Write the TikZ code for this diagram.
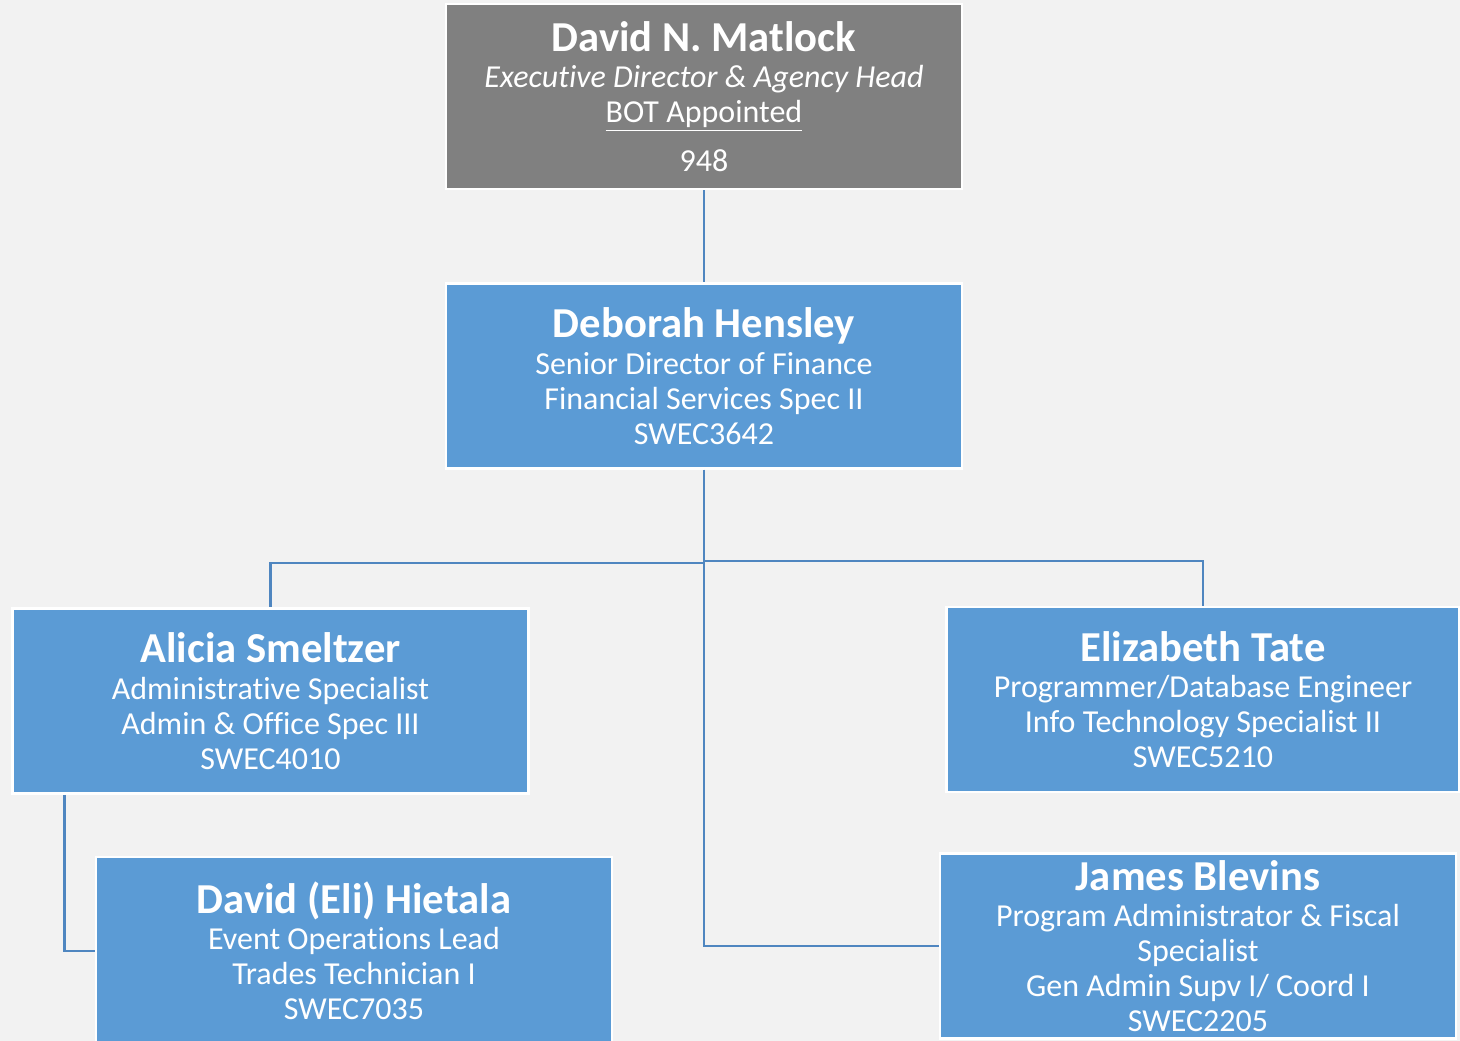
\documentclass[tikz,border=0pt]{standalone}
\usepackage{fontspec}
\setmainfont[Ligatures={NoCommon}]{Carlito}
\definecolor{bg}{HTML}{F2F2F2}
\definecolor{boxblue}{HTML}{5B9BD5}
\definecolor{boxgray}{HTML}{808080}
\definecolor{conn}{HTML}{4F86C0}
\tikzset{
  orgbox/.style={draw=white, line width=1.9pt, fill=boxblue, text=white,
    inner sep=0pt, align=center, minimum width=387pt, minimum height=139pt,
    font=\fontsize{24}{26.25}\selectfont},
  graybox/.style={orgbox, fill=boxgray},
  link/.style={draw=conn, line width=2.1pt},
}
\newcommand{\pname}[1]{{\fontsize{32}{30}\selectfont\bfseries #1}\\[1pt]}
\begin{document}
\begin{tikzpicture}[x=0.75pt, y=-0.75pt]
\useasboundingbox (0,0) rectangle (1460,1041);
\fill[bg] (0,0) rectangle (1460,1041);
\clip (0,0) rectangle (1460,1041);

\node[graybox] (matlock) at (704,96.5)
  {\pname{David N. Matlock}\textit{Executive Director \& Agency Head}\\\underline{BOT Appointed}\\[10pt]948};
\node[orgbox] (hensley) at (704,376)
  {\pname{Deborah Hensley}Senior Director of Finance\\Financial Services Spec II\\SWEC3642};
\node[orgbox] (smeltzer) at (270.5,701)
  {\pname{Alicia Smeltzer}Administrative Specialist\\Admin \& Office Spec III\\SWEC4010};
\node[orgbox, minimum width=385pt] (tate) at (1203,699.5)
  {\pname{Elizabeth Tate}Programmer/Database Engineer\\Info Technology Specialist II\\SWEC5210};
\node[orgbox, minimum height=141pt] (hietala) at (354,951)
  {\pname{David (Eli) Hietala}Event Operations Lead\\Trades Technician I\\SWEC7035};
\node[orgbox] (blevins) at (1198,946)
  {\pname{James Blevins}Program Administrator \& Fiscal\\Specialist\\Gen Admin Supv I/ Coord I\\SWEC2205};

\draw[link] (matlock.south) -- (hensley.north);
\draw[link] (hensley.south) -- ++(0,93) -| (smeltzer.north);
\draw[link] (hensley.south) -- ++(0,91) -| (tate.north);
\draw[link] (hensley.south) |- (blevins.west);
\draw[link] ([xshift=39.75pt]smeltzer.south west) |- (hietala.west);
\end{tikzpicture}
\end{document}
